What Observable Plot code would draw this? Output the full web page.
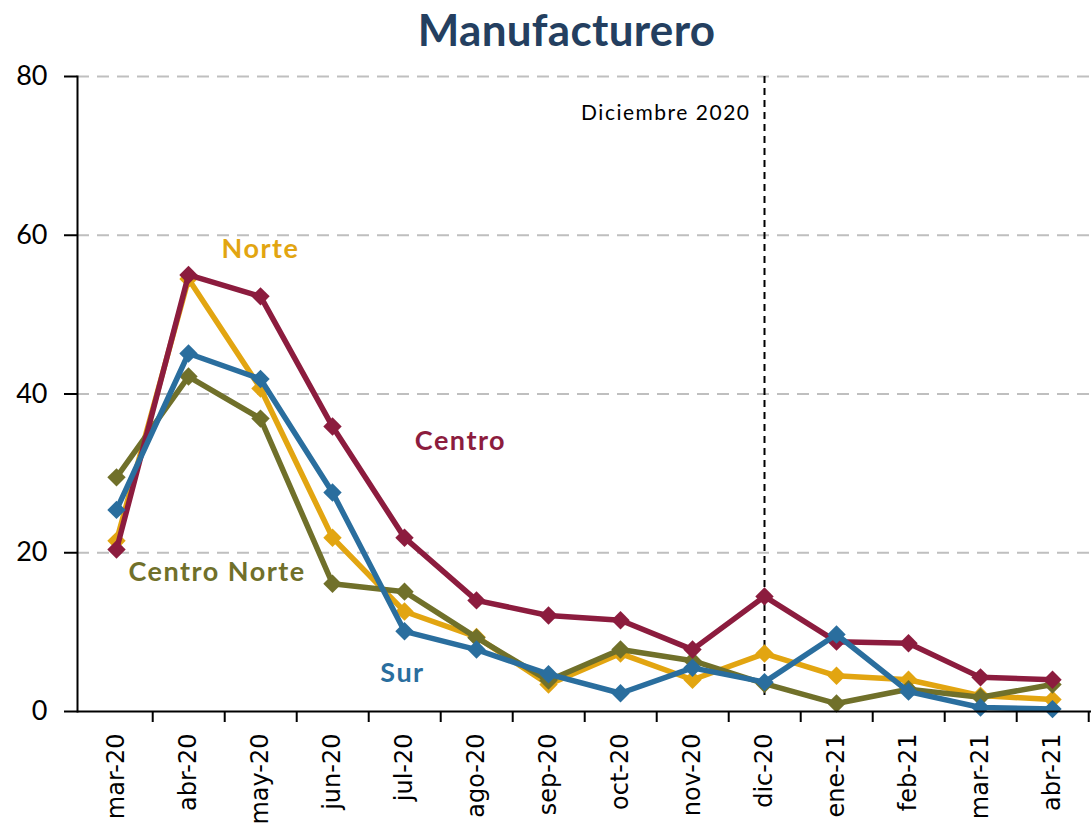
<!DOCTYPE html>
<html><head><meta charset="utf-8">
<script src="https://cdn.jsdelivr.net/npm/d3@7"></script>
<script src="https://cdn.jsdelivr.net/npm/@observablehq/plot@0.6"></script>
<style>
body{margin:0;background:#fff;}
#title{height:60px;text-align:center;font:bold 44px Lato;color:#243F60;line-height:58px;padding-left:42px;letter-spacing:0.3px;}
#chart svg g[aria-label="text"] text{letter-spacing:1.5px;}
</style></head><body>
<div id="title">Manufacturero</div>
<div id="chart"></div>
<script>
const months = ["mar-20","abr-20","may-20","jun-20","jul-20","ago-20","sep-20","oct-20","nov-20","dic-20","ene-21","feb-21","mar-21","abr-21"];
const norte       = [21.5, 54.5, 40.7, 21.9, 12.6, 9.4, 3.4, 7.3, 4.0, 7.3, 4.5, 4.0, 2.0, 1.5];
const centroNorte = [29.5, 42.2, 36.9, 16.1, 15.1, 9.3, 3.9, 7.8, 6.4, 3.5, 1.0, 2.8, 1.8, 3.4];
const centro      = [20.4, 55.0, 52.3, 35.9, 21.9, 14.0, 12.1, 11.5, 7.8, 14.5, 8.8, 8.6, 4.3, 4.0];
const sur         = [25.4, 45.1, 41.9, 27.6, 10.1, 7.8, 4.7, 2.3, 5.5, 3.7, 9.7, 2.5, 0.5, 0.3];
const seriesNames = ["Norte","Centro Norte","Centro","Sur"];
const seriesColors = ["#E2A511","#70702A","#8C1C3E","#2A6E9E"];
const yTicks = [0, 20, 40, 60, 80];
const gridValues = [20, 40, 60, 80];
const refMonth = "dic-20";
const refLabel = "Diciembre 2020";

const seriesValues = [norte, centroNorte, centro, sur];
const rows = [];
seriesNames.forEach((s, k) => months.forEach((m, i) => rows.push({serie: s, mes: m, valor: seriesValues[k][i]})));

const labels = [
  {serie:"Norte", mes:"may-20", valor:58.2, dx:0, anchor:"middle"},
  {serie:"Centro", mes:"ago-20", valor:34.0, dx:-16, anchor:"middle"},
  {serie:"Centro Norte", mes:"mar-20", valor:17.5, dx:12, anchor:"start"},
  {serie:"Sur", mes:"jul-20", valor:4.8, dx:-2, anchor:"middle"}
];

const W = 1091, ML = 77, MR = 0;
const step = (W - ML - MR) / months.length;
const color = {domain: seriesNames, range: seriesColors};

const marks = [
  Plot.ruleY(gridValues, {stroke:"#BFBFBF", strokeWidth:2, strokeDasharray:"12,8"}),
  Plot.ruleX([refMonth], {y1:80, y2:1.6, stroke:"black", strokeWidth:2, strokeDasharray:"7,5"}),
  Plot.text([{m:refMonth, v:75.4, t:refLabel}], {x:"m", y:"v", text:"t", textAnchor:"end", dx:-14, fontSize:21, fontFamily:"Lato", fill:"black"})
];
seriesNames.forEach(s => {
  const d = rows.filter(r => r.serie === s);
  marks.push(Plot.line(d, {x:"mes", y:"valor", stroke:"serie", strokeWidth:5.5, strokeLinejoin:"round"}));
  marks.push(Plot.dot(d, {x:"mes", y:"valor", fill:"serie", symbol:"diamond2", r:8.3, stroke:"none"}));
});
labels.forEach(l => {
  marks.push(Plot.text([l], {x:"mes", y:"valor", text:"serie", fill:"serie", dx:l.dx, textAnchor:l.anchor, fontSize:27, fontWeight:"bold", fontFamily:"Lato"}));
});
marks.push(
  Plot.axisY({ticks:yTicks, tickSize:13, tickPadding:17, fontSize:27, fontFamily:"Lato", stroke:"black", strokeWidth:2, fill:"black", label:null}),
  Plot.frame({anchor:"left", stroke:"black", strokeWidth:2}),
  Plot.ruleY([0], {stroke:"black", strokeWidth:2}),
  Plot.axisX({tickSize:0, tickPadding:22, tickRotate:-90, fontSize:24, fontFamily:"DejaVu Sans", fill:"black", label:null}),
  Plot.axisX({tickSize:11, dx:step/2, tickFormat:() => "", stroke:"black", strokeWidth:2, label:null})
);

const chart = Plot.plot({
  width: W, height: 767, marginLeft: ML, marginRight: MR, marginTop: 16, marginBottom: 116,
  x: {type:"point", domain: months, padding: 0.5, label: null},
  y: {domain:[0,80], label: null},
  color,
  style: {background:"white", color:"black", overflow:"visible"},
  marks
});
document.getElementById("chart").appendChild(chart);
</script>
</body></html>
